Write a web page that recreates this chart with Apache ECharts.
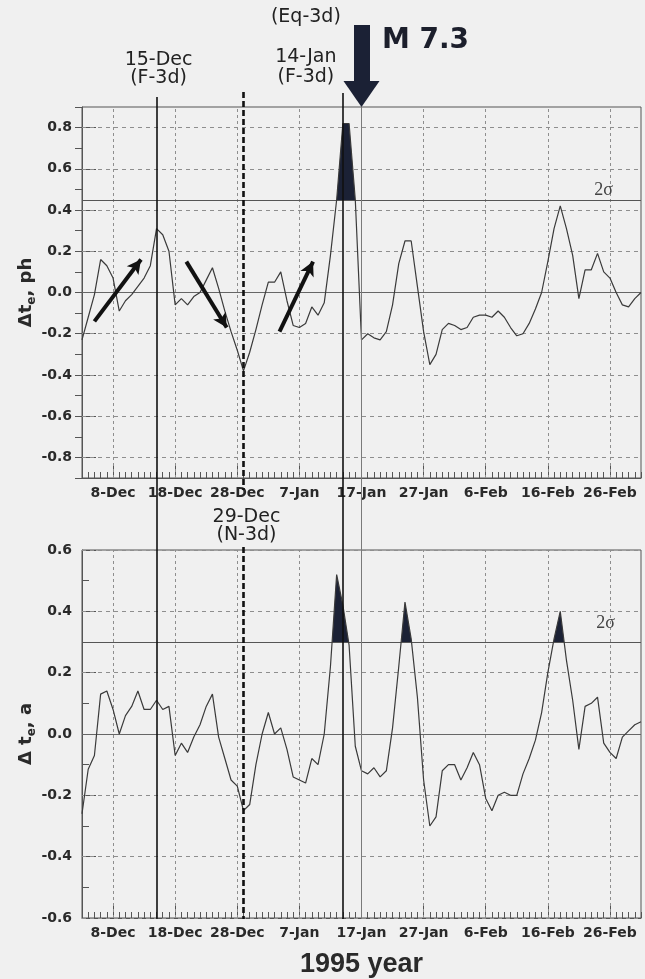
<!DOCTYPE html>
<html>
<head>
<meta charset="utf-8">
<script src="https://cdn.jsdelivr.net/npm/echarts@6/dist/echarts.min.js"></script>
<style>
html,body{margin:0;padding:0;background:#f0f0f0;}
#c{width:645px;height:979px;}
</style>
</head>
<body>
<div id="c"></div>
<script>
// ---------- DATA ----------
// x = day index, 0 = 3-Dec-1994 ... 90 = 3-Mar-1995
const tickDays = [5, 15, 25, 35, 45, 55, 65, 75, 85];
const tickLabels = ['8-Dec','18-Dec','28-Dec','7-Jan','17-Jan','27-Jan','6-Feb','16-Feb','26-Feb'];
const phTicks = [-0.8, -0.6, -0.4, -0.2, 0.0, 0.2, 0.4, 0.6, 0.8];
const ampTicks = [-0.6, -0.4, -0.2, 0.0, 0.2, 0.4, 0.6];

const phValues = [
  -0.23,-0.12,-0.01, 0.16, 0.13, 0.07,-0.09,-0.04,-0.01, 0.03,
   0.07, 0.13, 0.31, 0.28, 0.20,-0.06,-0.03,-0.06,-0.02, 0.00,
   0.06, 0.12, 0.02,-0.09,-0.19,-0.28,-0.38,-0.29,-0.18,-0.06,
   0.05, 0.05, 0.10,-0.04,-0.16,-0.17,-0.15,-0.07,-0.11,-0.05,
   0.18, 0.45, 0.82, 0.82, 0.45,-0.23,-0.20,-0.22,-0.23,-0.19,
  -0.06, 0.14, 0.25, 0.25, 0.03,-0.19,-0.35,-0.30,-0.18,-0.15,
  -0.16,-0.18,-0.17,-0.12,-0.11,-0.11,-0.12,-0.09,-0.12,-0.17,
  -0.21,-0.20,-0.15,-0.08, 0.00, 0.15, 0.31, 0.42, 0.31, 0.18,
  -0.03, 0.11, 0.11, 0.19, 0.10, 0.07, 0.00,-0.06,-0.07,-0.03,
   0.00
];
const ampValues = [
  -0.26,-0.115,-0.07, 0.13, 0.14, 0.08, 0.00, 0.06, 0.09, 0.14,
   0.08, 0.08, 0.11, 0.08, 0.09,-0.07,-0.03,-0.06,-0.01, 0.03,
   0.09, 0.13,-0.01,-0.08,-0.15,-0.17,-0.25,-0.23,-0.10, 0.00,
   0.07, 0.00, 0.02,-0.05,-0.14,-0.15,-0.16,-0.08,-0.10, 0.00,
   0.22, 0.52, 0.42, 0.29,-0.04,-0.12,-0.13,-0.11,-0.14,-0.12,
   0.02, 0.22, 0.43, 0.31, 0.12,-0.15,-0.30,-0.27,-0.12,-0.10,
  -0.10,-0.15,-0.11,-0.06,-0.10,-0.21,-0.25,-0.20,-0.19,-0.20,
  -0.20,-0.13,-0.08,-0.02, 0.07, 0.20, 0.31, 0.40, 0.24, 0.11,
  -0.05, 0.09, 0.10, 0.12,-0.03,-0.06,-0.08,-0.01, 0.01, 0.03,
   0.04
];
const phSigma = 0.45;
const ampSigma = 0.30;

const eventDays = [12, 26, 42, 45];           // 15-Dec, 29-Dec, 14-Jan, 17-Jan
const eventLabels = ['15-Dec\n(F-3d)', '29-Dec\n(N-3d)', '(Eq-3d)\n\n14-Jan\n(F-3d)', ''];
const quakeDay = 45;
const quakeLabel = 'M 7.3';
// trend arrows on the upper panel: [fromDay, fromValue, toDay, toValue]
const trendArrows = [
  [2.0, -0.14, 9.5, 0.16],
  [16.8, 0.15, 23.3, -0.17],
  [31.8, -0.19, 37.2, 0.15]
];

// ---------- STYLE / LAYOUT ----------
const INK = '#2a2a2a';
const GRIDC = '#8e8e8e';
const FILL = '#1b2135';
const FONT = 'DejaVu Sans';
const PLOT_L = 82, PLOT_R = 4;
const TOP1 = 107, H1 = 371;
const TOP2 = 550, H2 = 369;
const PAGE_H = 979;
const PH_MIN = -0.9, PH_MAX = 0.9, AMP_MIN = -0.6, AMP_MAX = 0.6;
// vertical extents (page pixels) for the event lines in overlay grid
const eventLayout = [
  { segs: [[97, TOP2 + H2]], style: { color: '#111', width: 1.6, type: 'solid' }, labelY: 69, dx: 2, lh: 18 },
  { segs: [[92, 490], [547, TOP2 + H2]], style: { color: '#111', width: 2.6, type: [6, 3] }, labelY: 526, dx: 3, lh: 18 },
  { segs: [[93, TOP2 + H2]], style: { color: '#111', width: 1.6, type: 'solid' }, labelY: 47, dx: -37, lh: 20 },
  { segs: [[107, TOP2 + H2]], style: { color: '#7a7a7a', width: 1, type: 'solid' }, labelY: 0, dx: 0, lh: 18 }
];

const phData = phValues.map((v, i) => [i, v]);
const ampData = ampValues.map((v, i) => [i, v]);

const chart = echarts.init(document.getElementById('c'), null, { renderer: 'canvas' });

function mainX(gi, extra) {
  return Object.assign({
    type: 'value', gridIndex: gi, min: 0, max: 90, position: 'bottom',
    axisLine: { show: true, onZero: false, lineStyle: { color: '#555', width: 1 } },
    axisTick: { show: true, inside: true, length: 12, customValues: tickDays, lineStyle: { color: '#555' } },
    axisLabel: {
      show: true, customValues: tickDays,
      formatter: v => tickLabels[tickDays.indexOf(v)] || '',
      margin: 8, color: INK, fontFamily: FONT, fontWeight: 'bold', fontSize: 14
    },
    splitLine: { show: false }
  }, extra || {});
}
function minorX(gi) {
  return {
    type: 'value', gridIndex: gi, min: 0, max: 90, interval: 1, position: 'bottom',
    axisLine: { show: false, onZero: false },
    axisTick: { show: true, inside: true, length: 6, lineStyle: { color: '#555' } },
    axisLabel: { show: false }, splitLine: { show: false }
  };
}
const labelStyle = { color: INK, fontFamily: FONT, fontWeight: 'bold', fontSize: 14, margin: 10 };
function nameStyle() {
  return {
    rich: {
      a: { fontFamily: FONT, fontWeight: 'bold', fontSize: 18, color: INK, lineHeight: 24 },
      s: { fontFamily: FONT, fontWeight: 'bold', fontSize: 12, color: INK, lineHeight: 14, verticalAlign: 'bottom' }
    }
  };
}

function gridLines(ticks) {
  const dash = { type: [4, 4], color: GRIDC, width: 1 };
  const out = [];
  ticks.filter(v => v !== 0).forEach(v => out.push({ yAxis: v, lineStyle: dash }));
  tickDays.forEach(d => out.push({ xAxis: d, lineStyle: { type: [3, 3], color: GRIDC, width: 1 } }));
  out.push({ yAxis: 0, lineStyle: { type: 'solid', color: '#666', width: 1 } });
  return out;
}
function sigmaLine(sigma, dy, dx) {
  return {
    yAxis: sigma, lineStyle: { type: 'solid', color: '#555', width: 1.2 },
    label: {
      show: true, position: 'insideEndTop', formatter: '2σ', distance: [dx, dy],
      fontFamily: 'Liberation Serif', fontSize: 18, color: '#444'
    }
  };
}

const series = [];
// 0: reference lines top
series.push({
  type: 'line', xAxisIndex: 0, yAxisIndex: 0, data: [], silent: true, z: 1,
  markLine: { silent: true, symbol: 'none', z: 1, animation: false, label: { show: false },
    data: gridLines(phTicks).concat([sigmaLine(phSigma, 0, 28)]) }
});
// 1: fill top (area above 2σ, coloured by visualMap)
const fillTopIdx = series.length;
series.push({
  type: 'line', xAxisIndex: 0, yAxisIndex: 0, data: phData, symbol: 'none', silent: true, z: 2,
  lineStyle: { width: 0, opacity: 0 }, areaStyle: { opacity: 1 }
});
// 2: top curve
series.push({
  type: 'line', xAxisIndex: 0, yAxisIndex: 0, data: phData, symbol: 'none', silent: true, z: 3,
  lineStyle: { color: '#3a3a3a', width: 1.2 },
  markLine: {
    silent: true, animation: false, z: 6, symbol: ['none', 'arrow'], symbolSize: [11, 14],
    label: { show: false },
    lineStyle: { color: '#111', width: 4, type: 'solid' },
    data: trendArrows.map(a => [{ coord: [a[0], a[1]] }, { coord: [a[2], a[3]] }])
  }
});
// 3: reference lines bottom
series.push({
  type: 'line', xAxisIndex: 2, yAxisIndex: 2, data: [], silent: true, z: 1,
  markLine: { silent: true, symbol: 'none', z: 1, animation: false, label: { show: false },
    data: gridLines(ampTicks).concat([sigmaLine(ampSigma, 10, 26)]) }
});
// 4: fill bottom
const fillBotIdx = series.length;
series.push({
  type: 'line', xAxisIndex: 2, yAxisIndex: 2, data: ampData, symbol: 'none', silent: true, z: 2,
  lineStyle: { width: 0, opacity: 0 }, areaStyle: { opacity: 1 }
});
// 5: bottom curve
series.push({
  type: 'line', xAxisIndex: 2, yAxisIndex: 2, data: ampData, symbol: 'none', silent: true, z: 3,
  lineStyle: { color: '#3a3a3a', width: 1.2 }
});
// 6: overlay event lines + labels
const evLines = [];
const evPoints = [];
eventDays.forEach((d, i) => {
  const L = eventLayout[i];
  L.segs.forEach(s => evLines.push([{ coord: [d, s[0]], lineStyle: L.style }, { coord: [d, s[1]] }]));
  if (eventLabels[i]) {
    evPoints.push({
      coord: [d, L.labelY], name: eventLabels[i],
      label: { offset: [L.dx, 0], lineHeight: L.lh }
    });
  }
});
evPoints.push({
  coord: [quakeDay, 41], name: quakeLabel,
  label: { offset: [64, 0], fontSize: 28, fontWeight: 'bold', color: '#1c1f2c', lineHeight: 32 }
});
series.push({
  type: 'line', xAxisIndex: 4, yAxisIndex: 4, data: [], silent: true, z: 10,
  markLine: { silent: true, symbol: 'none', z: 10, animation: false, label: { show: false }, data: evLines },
  markPoint: {
    silent: true, animation: false, symbol: 'circle', symbolSize: 1, z: 11,
    itemStyle: { color: 'rgba(0,0,0,0)' },
    label: { show: true, position: 'inside', formatter: '{b}', fontFamily: FONT, fontSize: 19, color: '#222', align: 'center' },
    data: evPoints
  }
});
// 7: M7.3 arrow
series.push({
  type: 'line', xAxisIndex: 4, yAxisIndex: 4, data: [], silent: true, z: 12,
  markLine: {
    silent: true, animation: false, z: 12, symbol: ['none', 'triangle'], symbolSize: [36, 26],
    label: { show: false },
    lineStyle: { color: FILL, width: 16, type: 'solid', cap: 'butt' },
    data: [[{ coord: [quakeDay, 25] }, { coord: [quakeDay, 94] }]]
  }
});

const option = {
  animation: false,
  backgroundColor: '#f0f0f0',
  grid: [
    { left: PLOT_L, right: PLOT_R, top: TOP1, height: H1, show: true, borderColor: '#555', borderWidth: 1, backgroundColor: 'transparent' },
    { left: PLOT_L, right: PLOT_R, top: TOP2, height: H2, show: true, borderColor: '#555', borderWidth: 1, backgroundColor: 'transparent' },
    { left: PLOT_L, right: PLOT_R, top: 0, height: PAGE_H, show: false }
  ],
  xAxis: [
    mainX(0), minorX(0),
    mainX(1, { name: '1995 year', nameLocation: 'middle', nameGap: 33, nameMoveOverlap: false,
      nameTextStyle: { fontFamily: 'Liberation Sans', fontWeight: 'bold', fontSize: 27, color: INK } }),
    minorX(1),
    { type: 'value', gridIndex: 2, min: 0, max: 90, show: false }
  ],
  yAxis: [
    { type: 'value', gridIndex: 0, min: PH_MIN, max: PH_MAX,
      axisLine: { show: true, lineStyle: { color: '#555' } },
      axisTick: { show: true, inside: true, length: 14, customValues: phTicks, lineStyle: { color: '#555' } },
      axisLabel: Object.assign({ customValues: phTicks, formatter: v => v.toFixed(1) }, labelStyle),
      splitLine: { show: false },
      name: '{a|Δt}{s|e}{a|, ph}', nameLocation: 'middle', nameGap: 44, nameRotate: 90, nameMoveOverlap: false,
      nameTextStyle: nameStyle() },
    { type: 'value', gridIndex: 0, min: PH_MIN, max: PH_MAX, interval: 0.1,
      axisLine: { show: false }, axisTick: { show: true, inside: true, length: 7, lineStyle: { color: '#555' } },
      axisLabel: { show: false }, splitLine: { show: false } },
    { type: 'value', gridIndex: 1, min: AMP_MIN, max: AMP_MAX, interval: 0.2,
      axisLine: { show: true, lineStyle: { color: '#555' } },
      axisTick: { show: true, inside: true, length: 14, lineStyle: { color: '#555' } },
      minorTick: { show: true, splitNumber: 2, length: 7, lineStyle: { color: '#555' } },
      axisLabel: Object.assign({ formatter: v => v.toFixed(1) }, labelStyle),
      splitLine: { show: false },
      name: '{a|Δ t}{s|e}{a|, a}', nameLocation: 'middle', nameGap: 44, nameRotate: 90, nameMoveOverlap: false,
      nameTextStyle: nameStyle() },
    { type: 'value', gridIndex: 1, min: AMP_MIN, max: AMP_MAX, show: false },
    { type: 'value', gridIndex: 2, min: 0, max: PAGE_H, inverse: true, show: false }
  ],
  visualMap: [
    { type: 'piecewise', show: false, seriesIndex: fillTopIdx, dimension: 1,
      pieces: [{ gt: phSigma, lte: PH_MAX, color: FILL }, { gte: PH_MIN, lte: phSigma, color: 'rgba(0,0,0,0)' }] },
    { type: 'piecewise', show: false, seriesIndex: fillBotIdx, dimension: 1,
      pieces: [{ gt: ampSigma, lte: AMP_MAX, color: FILL }, { gte: AMP_MIN, lte: ampSigma, color: 'rgba(0,0,0,0)' }] }
  ],
  series: series
};
chart.setOption(option);
</script>
</body>
</html>
